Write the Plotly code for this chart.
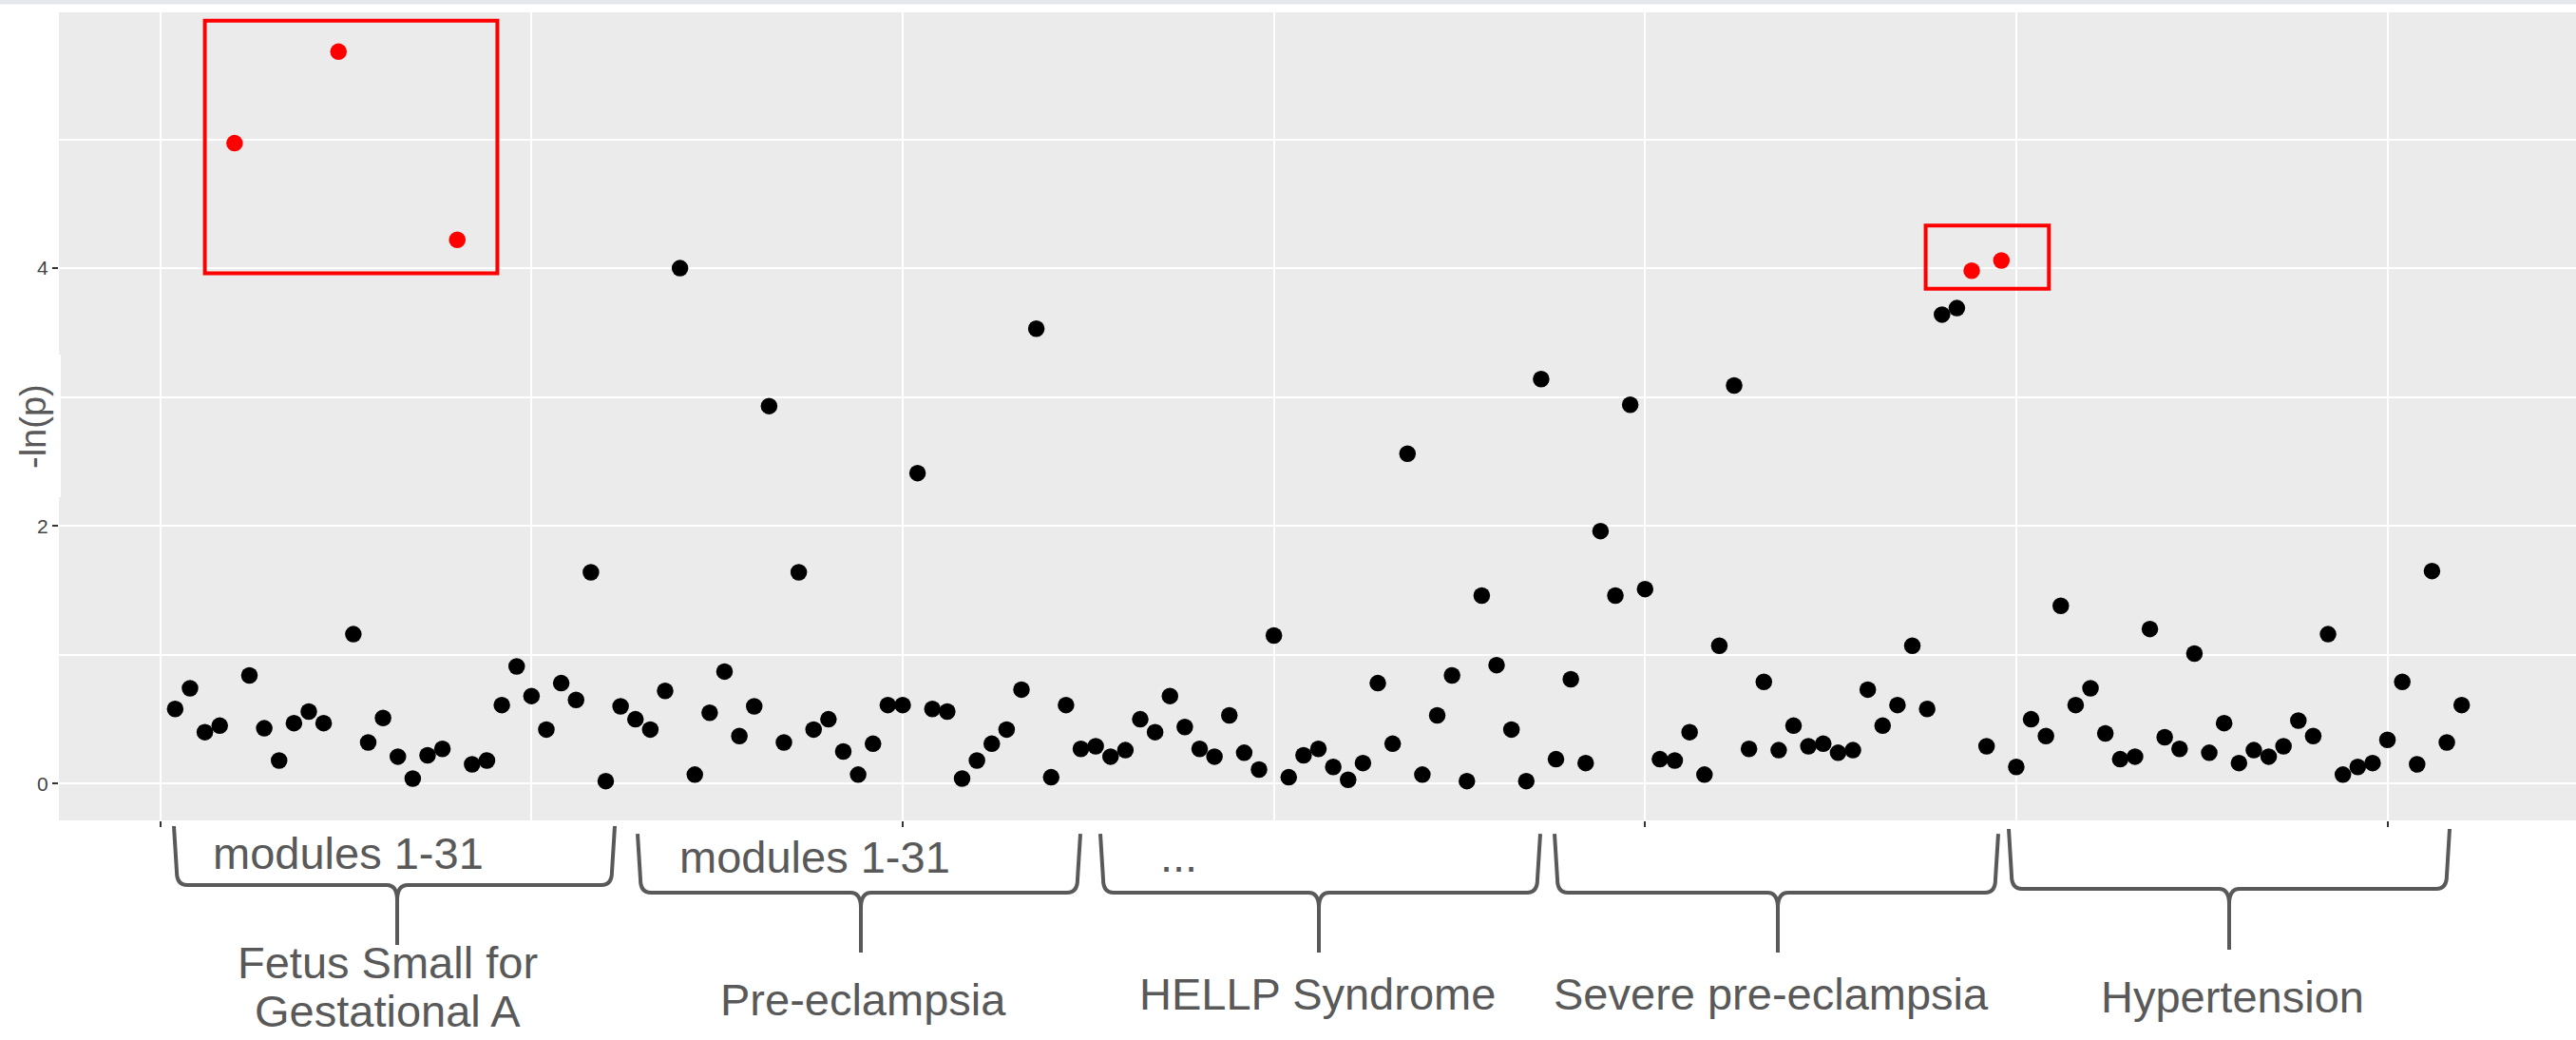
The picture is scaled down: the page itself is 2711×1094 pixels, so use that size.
import plotly.graph_objects as go

# -ln(p) of modules 1-31 for each disease term
diseases = ["Fetus Small for Gestational A", "Pre-eclampsia", "HELLP Syndrome",
            "Severe pre-eclampsia", "Hypertension"]

fetus_small = [0.58, 0.74, 0.40, 0.45, 4.97, 0.84, 0.43, 0.18, 0.47, 0.56, 0.47,
               5.68, 1.16, 0.32, 0.51, 0.21, 0.04, 0.22, 0.27, 4.22, 0.15, 0.18,
               0.61, 0.91, 0.68, 0.42, 0.78, 0.65, 1.64, 0.02, 0.60]
pre_eclampsia = [0.50, 0.42, 0.72, 4.00, 0.07, 0.55, 0.87, 0.37, 0.60, 2.93, 0.32,
                 1.64, 0.42, 0.50, 0.25, 0.07, 0.31, 0.61, 0.61, 2.41, 0.58, 0.56,
                 0.04, 0.18, 0.31, 0.42, 0.73, 3.53, 0.05, 0.61, 0.27]
hellp = [0.29, 0.21, 0.26, 0.50, 0.40, 0.68, 0.44, 0.27, 0.21, 0.53, 0.24,
         0.11, 1.15, 0.05, 0.22, 0.27, 0.13, 0.03, 0.16, 0.78, 0.31, 2.56,
         0.07, 0.53, 0.84, 0.02, 1.46, 0.92, 0.42, 0.02, 3.14]
severe_pre_eclampsia = [0.19, 0.81, 0.16, 1.96, 1.46, 2.94, 1.51, 0.19, 0.18, 0.40, 0.07,
                        1.07, 3.09, 0.27, 0.79, 0.26, 0.45, 0.29, 0.31, 0.24, 0.26,
                        0.73, 0.45, 0.61, 1.07, 0.58, 3.64, 3.69, 3.98, 0.29, 4.06]
hypertension = [0.13, 0.50, 0.37, 1.38, 0.61, 0.74, 0.39, 0.19, 0.21, 1.20, 0.36,
                0.27, 1.01, 0.24, 0.47, 0.16, 0.26, 0.21, 0.29, 0.49, 0.37,
                1.16, 0.07, 0.13, 0.16, 0.34, 0.79, 0.15, 1.65, 0.32, 0.61]

# significant modules (1-based module number within each disease)
highlight = {"Fetus Small for Gestational A": [5, 12, 20],
             "Severe pre-eclampsia": [29, 31]}

y_ticks = [0, 2, 4]
group_note = ["modules 1-31", "modules 1-31", "...", "", ""]

# ---------------------------------------------------------------- data
series = [fetus_small, pre_eclampsia, hellp, severe_pre_eclampsia, hypertension]
xs, ys, cols = [], [], []
k = 0
for name, vals in zip(diseases, series):
    for m, v in enumerate(vals, start=1):
        k += 1
        xs.append(k)
        ys.append(v)
        cols.append("#FF0000" if m in highlight.get(name, []) else "#000000")

W, H = 2711, 1094
PL, PT, PW, PH = 62, 13, 2649, 850          # plotting panel in pixels


def px(x):
    return (x - PL) / PW


def py(y):
    return (PT + PH - y) / PH


fig = go.Figure()
fig.add_trace(go.Scatter(x=xs, y=ys, mode="markers",
                         marker=dict(size=17.5, color=cols, line=dict(width=0)),
                         hoverinfo="skip", showlegend=False))

grid = "#FFFFFF"
fig.update_layout(
    width=W, height=H,
    margin=dict(l=PL, r=W - PL - PW, t=PT, b=H - PT - PH, pad=0),
    paper_bgcolor="#FFFFFF", plot_bgcolor="#EBEBEB",
    font=dict(family="Liberation Sans, Arial, sans-serif", color="#4D4D4D"),
    xaxis=dict(range=[-6.83, 162.70], tickmode="array", tickvals=[0, 50, 100, 150],
               showticklabels=False, ticks="outside", ticklen=6, tickwidth=2,
               tickcolor="#333333", showgrid=True, gridcolor=grid, gridwidth=2.4,
               zeroline=False, showline=False,
               minor=dict(tickmode="array", tickvals=[25, 75, 125], showgrid=True,
                          gridcolor=grid, gridwidth=1.8, ticks="")),
    yaxis=dict(range=[-0.285, 5.985], tickmode="array", tickvals=y_ticks,
               ticktext=[str(t) for t in y_ticks],
               tickfont=dict(size=21, color="#444444"),
               ticks="outside", ticklen=6, tickwidth=2, tickcolor="#333333",
               showgrid=True, gridcolor=grid, gridwidth=2.4,
               zeroline=False, showline=False,
               minor=dict(tickmode="array", tickvals=[1, 3, 5], showgrid=True,
                          gridcolor=grid, gridwidth=1.8, ticks="")),
)

shapes = []
# thin band along the top edge
shapes.append(dict(type="rect", xref="paper", yref="paper", layer="above",
                   x0=px(0), x1=px(W), y0=py(0), y1=py(4.5),
                   fillcolor="#E4E7EC", line=dict(width=0)))
# white box behind the y-axis title
shapes.append(dict(type="rect", xref="paper", yref="paper", layer="above",
                   x0=px(0), x1=px(64), y0=py(373), y1=py(523),
                   fillcolor="#FFFFFF", line=dict(width=0)))

# red frames around the significant modules
for x0, x1, y0, y1 in [(3.0, 22.7, 3.96, 5.92), (118.9, 127.2, 3.84, 4.33)]:
    shapes.append(dict(type="rect", xref="x", yref="y", layer="above",
                       x0=x0, x1=x1, y0=y0, y1=y1,
                       line=dict(color="#FF0000", width=4),
                       fillcolor="rgba(0,0,0,0)"))


def brace(xl, xr, xc, ytop, ybar, ytip, rx=11, ry=14, cx=11, cy=16):
    P = lambda x, y: f"{px(x):.6f},{py(y):.6f}"
    return ("M " + P(xl, ytop) + " L " + P(xl + 3, ybar - ry) +
            " Q " + P(xl + 3, ybar) + " " + P(xl + 3 + rx, ybar) +
            " L " + P(xc - cx, ybar) +
            " Q " + P(xc, ybar) + " " + P(xc, ybar + cy) +
            " L " + P(xc, ytip) +
            " M " + P(xc, ybar + cy) +
            " Q " + P(xc, ybar) + " " + P(xc + cx, ybar) +
            " L " + P(xr - 3 - rx, ybar) +
            " Q " + P(xr - 3, ybar) + " " + P(xr - 3, ybar - ry) +
            " L " + P(xr, ytop))


braces = [(183, 647, 418, 869, 931, 994),
          (671, 1137, 906, 877, 939, 1002),
          (1158, 1621, 1388, 877, 939, 1002),
          (1636, 2103, 1871, 877, 939, 1002),
          (2114, 2578, 2346, 872, 935, 999)]
for b in braces:
    shapes.append(dict(type="path", xref="paper", yref="paper", layer="above",
                       path=brace(*b), line=dict(color="#595959", width=4)))
fig.update_layout(shapes=shapes)

label_font = dict(family="Liberation Sans, Arial, sans-serif", size=47, color="#595959")
ann = []
# notes above the braces
for txt, (x, y, anchor) in zip(group_note, [(366, 897, "center"), (857, 901, "center"),
                                            (1219, 900, "left"), (0, 0, ""), (0, 0, "")]):
    if txt:
        ann.append(dict(text=txt, x=px(x), y=py(y), xanchor=anchor, yanchor="middle"))
# disease names under the braces
name_pos = [(408, 1012), (908, 1051), (1386, 1045), (1864, 1045), (2349, 1048)]
name_lines = [["Fetus Small for", "Gestational A"], ["Pre-eclampsia"], ["HELLP Syndrome"],
              ["Severe pre-eclampsia"], ["Hypertension"]]
for (x, y), lines in zip(name_pos, name_lines):
    for j, line in enumerate(lines):
        ann.append(dict(text=line, x=px(x), y=py(y + 51 * j),
                        xanchor="center", yanchor="middle"))
for a in ann:
    a.update(xref="paper", yref="paper", showarrow=False, font=label_font)
# y-axis title
ann.append(dict(text="-ln(p)", x=px(35), y=py(449), xref="paper", yref="paper",
                xanchor="center", yanchor="middle", textangle=-90, showarrow=False,
                font=dict(family="Liberation Sans, Arial, sans-serif", size=38,
                          color="#595959")))
fig.update_layout(annotations=ann)

fig.write_html("out.html")
